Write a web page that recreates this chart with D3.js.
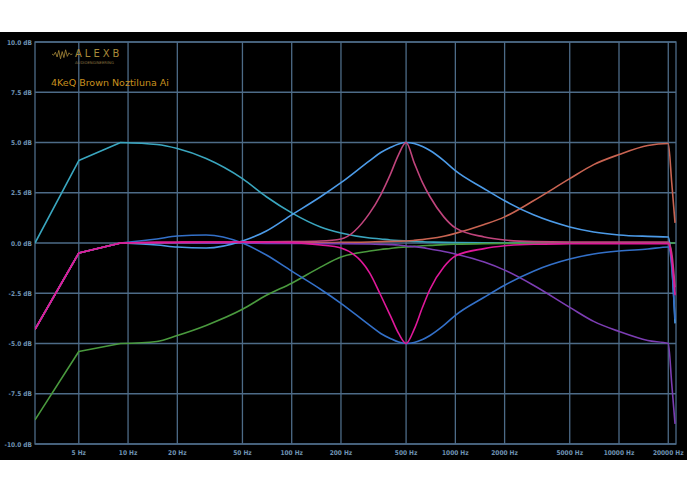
<!DOCTYPE html><html><head><meta charset="utf-8"><script src="https://cdn.jsdelivr.net/npm/d3@7"></script>
<style>body{margin:0;background:#fff}</style></head><body><svg id="c" width="687" height="492"></svg><script>
const freqs=[2.7,5,9,15,20,30,50,70,100,150,200,300,350,400,450,500,560,630,700,850,1000,1500,2000,3000,5000,7000,10000,15000,20000,21000,22000];
const teal=[0,4.1,5.0,4.9,4.7,4.2,3.2,2.3,1.5,0.8,0.5,0.25,0.2,0.15,0.12,0.1,0.08,0.06,0.05,0.03,0.02,0.01,0,0,0,0,0,0,0,0,0];
const green=[-8.8,-5.4,-5.0,-4.9,-4.6,-4.1,-3.3,-2.6,-2.0,-1.2,-0.7,-0.4,-0.32,-0.27,-0.22,-0.2,-0.17,-0.14,-0.12,-0.08,-0.06,-0.03,-0.02,-0.01,0,0,0,0,0,0,0];
const bellUp=[-4.3,-0.5,0,-0.1,-0.2,-0.25,0.1,0.6,1.4,2.3,3.0,4.1,4.5,4.75,4.93,5,4.95,4.8,4.6,4.1,3.6,2.7,2.1,1.4,0.8,0.55,0.4,0.33,0.3,-1.0,-4.0];
const bellDown=[-4.3,-0.5,0,0.2,0.35,0.4,0,-0.6,-1.4,-2.3,-3.0,-4.1,-4.5,-4.75,-4.93,-5,-4.95,-4.8,-4.6,-4.1,-3.6,-2.7,-2.1,-1.4,-0.8,-0.55,-0.4,-0.3,-0.2,-1.2,-3.8];
const notchUp=[-4.3,-0.5,0,0.03,0.04,0.05,0.05,0.06,0.07,0.1,0.2,1.5,2.4,3.4,4.4,5,4.0,3.0,2.3,1.3,0.75,0.3,0.15,0.07,0.05,0.05,0.05,0.05,0.05,-0.5,-2.2];
const notchDown=[-4.3,-0.5,0,0.03,0.04,0.05,0.05,0.04,0.02,-0.1,-0.25,-1.5,-2.6,-3.6,-4.5,-5,-4.3,-3.2,-2.3,-1.2,-0.65,-0.28,-0.14,-0.06,-0.04,-0.03,-0.03,-0.03,-0.03,-0.8,-2.6];
const shelfUp=[-4.3,-0.5,0,0,0.01,0.01,0.01,0.02,0.02,0.02,0.03,0.05,0.07,0.08,0.09,0.1,0.13,0.17,0.22,0.34,0.48,0.92,1.3,2.1,3.2,3.9,4.4,4.85,4.95,3.0,1.0];
const shelfDown=[-4.3,-0.5,0,0,0,-0.01,-0.01,-0.02,-0.02,-0.03,-0.03,-0.05,-0.07,-0.08,-0.1,-0.15,-0.18,-0.23,-0.3,-0.42,-0.55,-0.95,-1.35,-2.1,-3.2,-3.9,-4.4,-4.85,-5,-7,-9];
const series=[[teal,"#3aa6bf"],[green,"#4a9a3e"],[shelfUp,"#c96452"],[shelfDown,"#7c3db3"],[bellUp,"#4c9be8"],[bellDown,"#3370c8"],[notchUp,"#c0447c"],[notchDown,"#e0189a"]];
const xTicks=[5,10,20,50,100,200,500,1000,2000,5000,10000,20000];
const yTicks=[10,7.5,5,2.5,0,-2.5,-5,-7.5,-10];
const svg=d3.select("#c");
svg.append("rect").attr("x",0).attr("y",32).attr("width",687).attr("height",428).attr("fill","#000");
const x=d3.scaleLog().domain([2.7,22300]).range([35,676]);
const y=d3.scaleLinear().domain([-10,10]).range([444,42]);
const g=svg.append("g");
g.selectAll(".v").data(xTicks).join("line").attr("x1",d=>x(d)).attr("x2",d=>x(d)).attr("y1",42).attr("y2",444).attr("stroke","#4d6b87").attr("stroke-width",1.3);
g.selectAll(".h").data(yTicks).join("line").attr("x1",35).attr("x2",676).attr("y1",d=>y(d)).attr("y2",d=>y(d)).attr("stroke","#4d6b87").attr("stroke-width",1.3);
g.append("rect").attr("x",35).attr("y",42).attr("width",641).attr("height",402).attr("fill","none").attr("stroke","#4d6b87").attr("stroke-width",1.3);
const lab={fill:"#6f93b4","font-family":"DejaVu Sans Condensed","font-size":"6.5px","font-weight":"bold"};
function st(s){for(const k in lab)s.attr(k,lab[k]);return s;}
st(g.selectAll(".yl").data(yTicks).join("text").attr("x",32).attr("y",d=>y(d)+2.5).attr("text-anchor","end").text(d=>d.toFixed(1)+" dB"));
st(g.selectAll(".xl").data(xTicks).join("text").attr("x",d=>x(d)).attr("y",455).attr("text-anchor","middle").text(d=>d+" Hz"));
const lin=d3.line().x(d=>x(freqs[d[0]])).y(d=>y(d[1]));
const smooth=d3.line().x(d=>x(freqs[d[0]])).y(d=>y(d[1])).curve(d3.curveMonotoneX);
svg.append("clipPath").attr("id","cp").append("rect").attr("x",35).attr("y",42).attr("width",641).attr("height",402);
series.forEach(([s,c])=>{const pts=s.map((v,i)=>[i,v]);
  const p=lin(pts.slice(0,3))+smooth(pts.slice(2)).replace(/^M/,"L");
  svg.append("path").attr("d",p).attr("fill","none").attr("stroke",c).attr("stroke-width",1.6).attr("stroke-linejoin","round").attr("clip-path","url(#cp)");});
const wave=[0,2,-3,5,-6,8,-4,6,-7,4,-2,1,0];
svg.append("path").attr("d",d3.line().x((d,i)=>52+i*1.7).y(d=>54+d*0.6)(wave)).attr("fill","none").attr("stroke","#a88a3a").attr("stroke-width",0.8);
svg.append("text").attr("x",75).attr("y",57).text("ALEXB").attr("fill","#a88a3a").attr("font-family","DejaVu Sans").attr("font-size","10px").attr("letter-spacing","3px");
svg.append("text").attr("x",75).attr("y",63.5).text("AUDIOENGINEERING").attr("fill","#8a7640").attr("font-family","DejaVu Sans").attr("font-size","3.8px");
svg.append("text").attr("x",51).attr("y",86).text("4KeQ Brown Noztiluna Ai").attr("fill","#c8901e").attr("font-family","DejaVu Sans").attr("font-size","9.5px");
</script></body></html>
